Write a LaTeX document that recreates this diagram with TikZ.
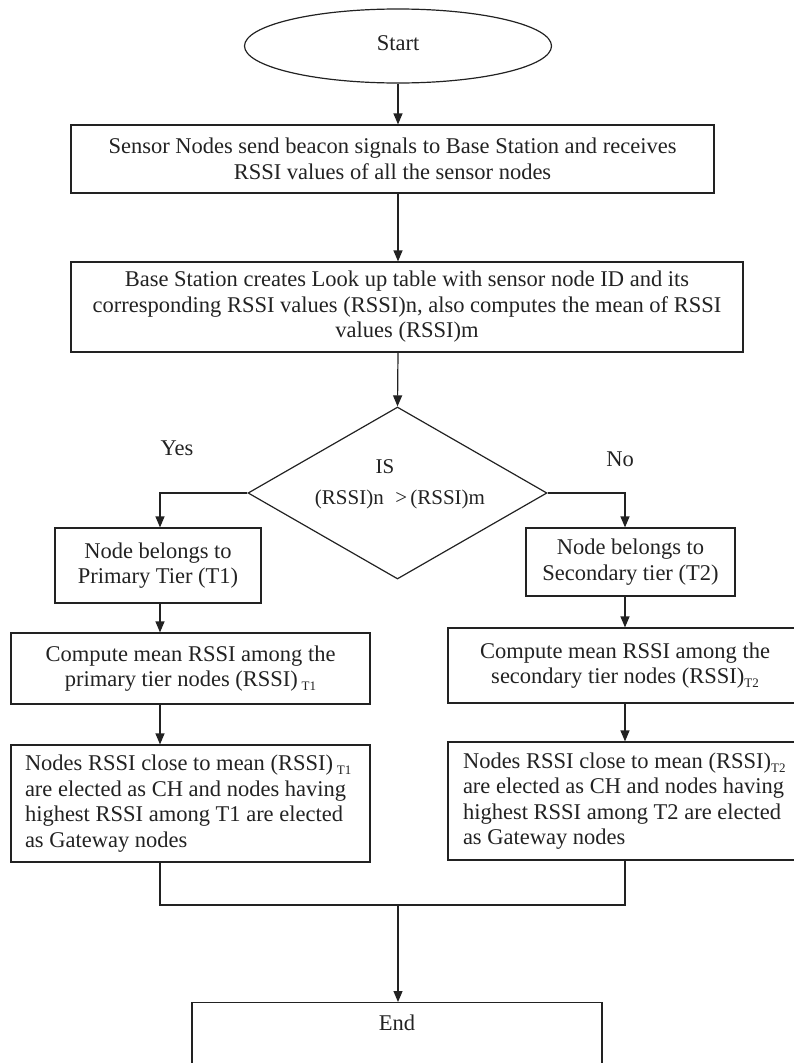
\documentclass[tikz,border=0pt]{standalone}
\usepackage{fontspec}
\setmainfont{Liberation Serif}
\usetikzlibrary{shapes.geometric,arrows.meta}
\definecolor{ink}{HTML}{222222}
\newcommand\sbt[1]{\raisebox{-0.4ex}{\fontsize{13}{13}\selectfont #1}}
\begin{document}
\begin{tikzpicture}[x=1pt,y=-1pt,
  every node/.style={text=ink},
  mainfont/.style={font=\fontsize{22.5}{25.5}\selectfont},
  box/.style={draw=ink, line width=1.2pt, rectangle, inner sep=0pt, align=center, mainfont},
  lbox/.style={box, align=flush left},
  startshape/.style={draw=ink, line width=1.2pt, ellipse, inner sep=0pt, mainfont},
  decshape/.style={draw=ink, line width=1.2pt, diamond, inner sep=0pt},
  plain/.style={inner sep=0pt, mainfont},
  conn/.style={draw=ink, line width=1.2pt},
  arr/.style={conn, -{Triangle[length=11pt,width=9pt]}}
]
\useasboundingbox (0,0) rectangle (793,1063);

\coordinate (lc) at (160,0);
\coordinate (mc) at (398,0);
\coordinate (rc) at (625,0);

\node[startshape, minimum width=307pt, minimum height=74pt] (start) at (398,46) {\raisebox{5pt}{Start}};

\node[box, minimum width=643pt, minimum height=68pt] (b1) at (392.5,159)
  {Sensor Nodes send beacon signals to Base Station and receives\\RSSI values of all the sensor nodes};

\node[box, minimum width=672pt, minimum height=90pt] (b2) at (407,307)
  {Base Station creates Look up table with sensor node ID and its\\corresponding RSSI values (RSSI)n, also computes the mean of RSSI\\values (RSSI)m};

\node[decshape, minimum width=299pt, minimum height=172pt] (dec) at (397.5,493) {};
\node[plain, font=\fontsize{21}{25}\selectfont] (dis) at (385,467) {IS};
\node[plain, font=\fontsize{21}{25}\selectfont] (dcond) at (400,499) {(RSSI)n\hspace{0.55em}>\hspace{0.15em}(RSSI)m};

\node[plain] (yes) at (177,448) {Yes};
\node[plain] (no) at (620,459) {No};

\node[box, minimum width=206pt, minimum height=75pt] (b3) at (158,565.5)
  {Node belongs to\\Primary Tier (T1)};
\node[box, minimum width=209pt, minimum height=68pt] (b4) at (630.5,562)
  {Node belongs to\\Secondary tier (T2)};

\node[box, minimum width=359pt, minimum height=71pt] (b5) at (190.5,668.5)
  {Compute mean RSSI among the\\primary tier nodes (RSSI)\,\sbt{T1}};
\node[box, minimum width=354pt, minimum height=75pt] (b6) at (625,665.5)
  {Compute mean RSSI among the\\secondary tier nodes (RSSI)\sbt{T2}};

\node[lbox, text width=331pt, minimum width=359pt, minimum height=117pt] (b7) at (190.5,803.5)
  {\mbox{Nodes RSSI close to mean (RSSI)\,\sbt{T1}}\\\mbox{are elected as CH and nodes having}\\\mbox{highest RSSI among T1 are elected}\\\mbox{as Gateway nodes}};
\node[lbox, text width=324pt, minimum width=354pt, minimum height=118pt] (b8) at (625,801)
  {\mbox{Nodes RSSI close to mean (RSSI)\sbt{T2}}\\\mbox{are elected as CH and nodes having}\\\mbox{highest RSSI among T2 are elected}\\\mbox{as Gateway nodes}};

\node[box, anchor=north, minimum width=410pt, text height=28pt, text depth=62pt] (end) at (397,1002) {End};

\coordinate (m) at (398,905);

\draw[arr] (start.south -| mc) -- (mc |- b1.north);
\draw[arr] (mc |- b1.south) -- (mc |- b2.north);
\draw[arr] (mc |- b2.south) -- (dec.north);
\draw[arr] (dec.west) -| (lc |- b3.north);
\draw[arr] (dec.east) -| (rc |- b4.north);
\draw[arr] (lc |- b3.south) -- (lc |- b5.north);
\draw[arr] (rc |- b4.south) -- (rc |- b6.north);
\draw[arr] (lc |- b5.south) -- (lc |- b7.north);
\draw[arr] (rc |- b6.south) -- (rc |- b8.north);
\draw[conn] (lc |- b7.south) |- (m) -| (rc |- b8.south);
\draw[arr] (m) -- (m |- end.north);
\end{tikzpicture}
\end{document}
